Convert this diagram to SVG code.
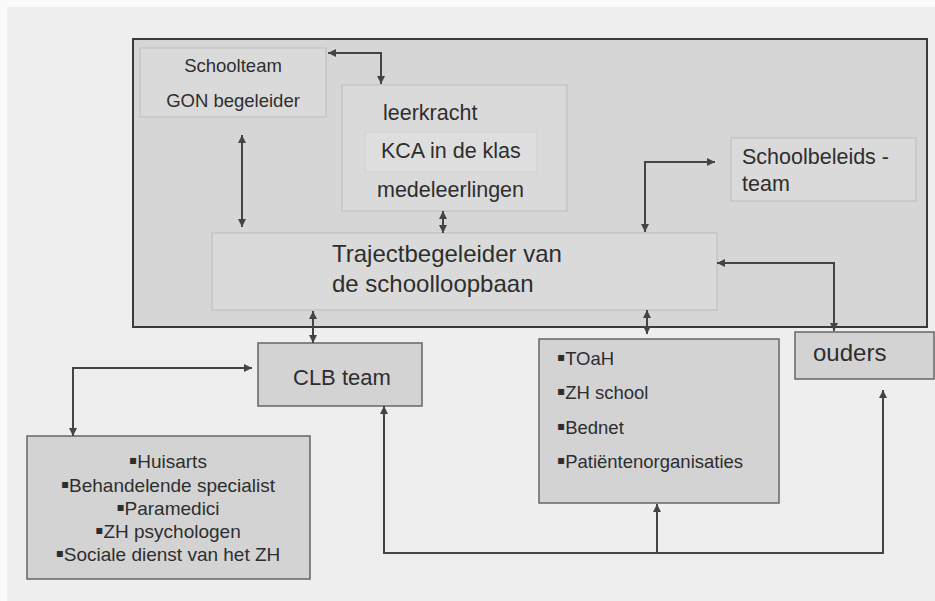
<svg xmlns="http://www.w3.org/2000/svg" width="935" height="601" viewBox="0 0 935 601">
<style>
text{font-family:"Liberation Sans",Arial,sans-serif;fill:#2e2e2e;}
.b{font-family:"DejaVu Sans",sans-serif;font-size:12px;}
.inner{fill:#dadada;stroke:#bcbcbc;stroke-width:1;}
.outer{fill:#d3d3d3;stroke:#666;stroke-width:1.5;}
.con{fill:none;stroke:#444;stroke-width:2;marker-start:url(#a);marker-end:url(#a);}
.one{fill:none;stroke:#444;stroke-width:2;marker-end:url(#a);}
</style>
<defs>
<marker id="a" viewBox="0 0 10 10" refX="10" refY="5" markerWidth="9" markerHeight="8" markerUnits="userSpaceOnUse" orient="auto-start-reverse">
<path d="M0,0 L10,5 L0,10 Z" fill="#444"/>
</marker>
</defs>
<rect x="0" y="0" width="935" height="601" fill="#fafafa"/>
<rect x="7" y="7" width="928" height="594" fill="#eeeeee"/>
<g id="school">
<rect x="133" y="39" width="794" height="288" fill="#d6d6d6" stroke="#3a3a3a" stroke-width="2"/>
</g>
<g id="schoolteam">
<rect class="inner" x="140" y="48" width="186" height="69"/>
<text x="233" y="72" font-size="18.5" text-anchor="middle">Schoolteam</text>
<text x="233" y="107" font-size="18.5" text-anchor="middle">GON begeleider</text>
</g>
<g id="leerkracht">
<rect class="inner" x="342" y="85" width="225" height="126"/>
<rect x="365" y="132" width="172" height="40" fill="#dedede" stroke="#d2d2d2" stroke-width="1"/>
<text x="383" y="120" font-size="21.5">leerkracht</text>
<text x="381" y="158" font-size="21.5">KCA in de klas</text>
<text x="377" y="197" font-size="21.5">medeleerlingen</text>
</g>
<g id="schoolbeleid">
<rect class="inner" x="731" y="138" width="185" height="63"/>
<text x="742" y="164" font-size="21.5">Schoolbeleids -</text>
<text x="742" y="191" font-size="21.5">team</text>
</g>
<g id="traject">
<rect class="inner" x="212" y="233" width="505" height="77"/>
<text x="332" y="262" font-size="24">Trajectbegeleider van</text>
<text x="332" y="292" font-size="24">de schoolloopbaan</text>
</g>
<g id="clb">
<rect class="outer" x="258" y="343" width="164" height="63"/>
<text x="293" y="385" font-size="22">CLB team</text>
</g>
<g id="toah">
<rect class="outer" x="539" y="339" width="240" height="164"/>
<text x="557" y="365" font-size="18.5"><tspan class="b" dy="-4">▪</tspan><tspan dy="4">TOaH</tspan></text>
<text x="557" y="399" font-size="18.5"><tspan class="b" dy="-4">▪</tspan><tspan dy="4">ZH school</tspan></text>
<text x="557" y="434" font-size="18.5"><tspan class="b" dy="-4">▪</tspan><tspan dy="4">Bednet</tspan></text>
<text x="557" y="468" font-size="18.5"><tspan class="b" dy="-4">▪</tspan><tspan dy="4">Patiëntenorganisaties</tspan></text>
</g>
<g id="ouders">
<rect class="outer" x="795" y="332" width="139" height="47"/>
<text x="813" y="361" font-size="24">ouders</text>
</g>
<g id="huisarts">
<rect class="outer" x="27" y="436" width="283" height="143"/>
<text x="168" y="468" font-size="19" text-anchor="middle"><tspan class="b" dy="-4">▪</tspan><tspan dy="4">Huisarts</tspan></text>
<text x="168" y="492" font-size="19" text-anchor="middle"><tspan class="b" dy="-4">▪</tspan><tspan dy="4">Behandelende specialist</tspan></text>
<text x="168" y="515" font-size="19" text-anchor="middle"><tspan class="b" dy="-4">▪</tspan><tspan dy="4">Paramedici</tspan></text>
<text x="168" y="538" font-size="19" text-anchor="middle"><tspan class="b" dy="-4">▪</tspan><tspan dy="4">ZH psychologen</tspan></text>
<text x="168" y="561" font-size="19" text-anchor="middle"><tspan class="b" dy="-4">▪</tspan><tspan dy="4">Sociale dienst van het ZH</tspan></text>
</g>
<g id="connectors">
<path class="con" d="M328,53 H381 V84"/>
<path class="con" d="M242,135 V227"/>
<path class="con" d="M443,211 V233"/>
<path class="con" d="M313,311 V343"/>
<path class="con" d="M715,162 H645 V232"/>
<path class="con" d="M717,263 H834 V331"/>
<path class="con" d="M647,310 V334"/>
<path class="con" d="M252,368 H73 V436"/>
<path class="con" d="M384,406 V553 H883 V390"/>
<path class="one" d="M657,553 V504"/>
</g>
</svg>
